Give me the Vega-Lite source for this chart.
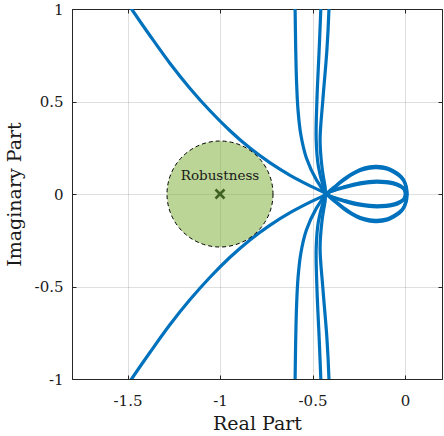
{
  "$schema": "https://vega.github.io/schema/vega-lite/v6.json",
  "width": 370,
  "height": 370,
  "autosize": {"type": "none"},
  "padding": {"left": 72, "top": 9, "right": 2, "bottom": 57},
  "config": {
    "font": "DejaVu Serif",
    "view": {"stroke": "#262626", "strokeWidth": 1},
    "axis": {
      "labelFont": "DejaVu Serif",
      "titleFont": "DejaVu Serif",
      "labelFontSize": 15,
      "titleFontSize": 19,
      "titleFontWeight": "normal",
      "labelColor": "#1a1a1a",
      "titleColor": "#1a1a1a",
      "domainColor": "#262626",
      "tickColor": "#262626",
      "gridColor": "#262626",
      "gridOpacity": 0.15,
      "tickSize": -4
    }
  },
  "datasets": {
    "curves": [
      {"s": "A1", "i": 0, "re": -1.521, "im": 1.065},
      {"s": "A1", "i": 1, "re": -1.478, "im": 1.0},
      {"s": "A1", "i": 2, "re": -1.379, "im": 0.857},
      {"s": "A1", "i": 3, "re": -1.271, "im": 0.707},
      {"s": "A1", "i": 4, "re": -1.163, "im": 0.572},
      {"s": "A1", "i": 5, "re": -1.054, "im": 0.45},
      {"s": "A1", "i": 6, "re": -0.946, "im": 0.342},
      {"s": "A1", "i": 7, "re": -0.838, "im": 0.248},
      {"s": "A1", "i": 8, "re": -0.729, "im": 0.168},
      {"s": "A1", "i": 9, "re": -0.621, "im": 0.101},
      {"s": "A1", "i": 10, "re": -0.513, "im": 0.044},
      {"s": "A1", "i": 11, "re": -0.425, "im": 0.0},
      {"s": "A1", "i": 12, "re": -0.37, "im": -0.045},
      {"s": "A1", "i": 13, "re": -0.332, "im": -0.074},
      {"s": "A1", "i": 14, "re": -0.29, "im": -0.103},
      {"s": "A1", "i": 15, "re": -0.242, "im": -0.127},
      {"s": "A1", "i": 16, "re": -0.19, "im": -0.14},
      {"s": "A1", "i": 17, "re": -0.152, "im": -0.142},
      {"s": "A1", "i": 18, "re": -0.1, "im": -0.135},
      {"s": "A1", "i": 19, "re": -0.062, "im": -0.118},
      {"s": "A1", "i": 20, "re": -0.03, "im": -0.097},
      {"s": "A1", "i": 21, "re": -0.008, "im": -0.073},
      {"s": "A1", "i": 22, "re": 0.005, "im": -0.038},
      {"s": "A1", "i": 23, "re": 0.009, "im": 0.0},

      {"s": "A2", "i": 0, "re": -1.521, "im": -1.065},
      {"s": "A2", "i": 1, "re": -1.478, "im": -1.0},
      {"s": "A2", "i": 2, "re": -1.379, "im": -0.857},
      {"s": "A2", "i": 3, "re": -1.271, "im": -0.707},
      {"s": "A2", "i": 4, "re": -1.163, "im": -0.572},
      {"s": "A2", "i": 5, "re": -1.054, "im": -0.45},
      {"s": "A2", "i": 6, "re": -0.946, "im": -0.342},
      {"s": "A2", "i": 7, "re": -0.838, "im": -0.248},
      {"s": "A2", "i": 8, "re": -0.729, "im": -0.168},
      {"s": "A2", "i": 9, "re": -0.621, "im": -0.101},
      {"s": "A2", "i": 10, "re": -0.513, "im": -0.044},
      {"s": "A2", "i": 11, "re": -0.425, "im": 0.0},
      {"s": "A2", "i": 12, "re": -0.37, "im": 0.045},
      {"s": "A2", "i": 13, "re": -0.332, "im": 0.074},
      {"s": "A2", "i": 14, "re": -0.29, "im": 0.103},
      {"s": "A2", "i": 15, "re": -0.242, "im": 0.127},
      {"s": "A2", "i": 16, "re": -0.19, "im": 0.14},
      {"s": "A2", "i": 17, "re": -0.152, "im": 0.142},
      {"s": "A2", "i": 18, "re": -0.1, "im": 0.135},
      {"s": "A2", "i": 19, "re": -0.062, "im": 0.118},
      {"s": "A2", "i": 20, "re": -0.03, "im": 0.097},
      {"s": "A2", "i": 21, "re": -0.008, "im": 0.073},
      {"s": "A2", "i": 22, "re": 0.005, "im": 0.038},
      {"s": "A2", "i": 23, "re": 0.009, "im": 0.0},

      {"s": "B1", "i": 0, "re": -0.596, "im": 1.1},
      {"s": "B1", "i": 1, "re": -0.594, "im": 1.0},
      {"s": "B1", "i": 2, "re": -0.591, "im": 0.8},
      {"s": "B1", "i": 3, "re": -0.586, "im": 0.6},
      {"s": "B1", "i": 4, "re": -0.578, "im": 0.45},
      {"s": "B1", "i": 5, "re": -0.563, "im": 0.32},
      {"s": "B1", "i": 6, "re": -0.533, "im": 0.195},
      {"s": "B1", "i": 7, "re": -0.478, "im": 0.075},
      {"s": "B1", "i": 8, "re": -0.425, "im": 0.0},
      {"s": "B1", "i": 9, "re": -0.37, "im": -0.048},
      {"s": "B1", "i": 10, "re": -0.332, "im": -0.079},
      {"s": "B1", "i": 11, "re": -0.29, "im": -0.108},
      {"s": "B1", "i": 12, "re": -0.242, "im": -0.133},
      {"s": "B1", "i": 13, "re": -0.19, "im": -0.147},
      {"s": "B1", "i": 14, "re": -0.152, "im": -0.149},
      {"s": "B1", "i": 15, "re": -0.1, "im": -0.142},
      {"s": "B1", "i": 16, "re": -0.062, "im": -0.125},
      {"s": "B1", "i": 17, "re": -0.03, "im": -0.103},
      {"s": "B1", "i": 18, "re": -0.008, "im": -0.078},
      {"s": "B1", "i": 19, "re": 0.007, "im": -0.04},
      {"s": "B1", "i": 20, "re": 0.012, "im": 0.0},

      {"s": "B2", "i": 0, "re": -0.596, "im": -1.1},
      {"s": "B2", "i": 1, "re": -0.594, "im": -1.0},
      {"s": "B2", "i": 2, "re": -0.591, "im": -0.8},
      {"s": "B2", "i": 3, "re": -0.586, "im": -0.6},
      {"s": "B2", "i": 4, "re": -0.578, "im": -0.45},
      {"s": "B2", "i": 5, "re": -0.563, "im": -0.32},
      {"s": "B2", "i": 6, "re": -0.533, "im": -0.195},
      {"s": "B2", "i": 7, "re": -0.478, "im": -0.075},
      {"s": "B2", "i": 8, "re": -0.425, "im": 0.0},
      {"s": "B2", "i": 9, "re": -0.37, "im": 0.048},
      {"s": "B2", "i": 10, "re": -0.332, "im": 0.079},
      {"s": "B2", "i": 11, "re": -0.29, "im": 0.108},
      {"s": "B2", "i": 12, "re": -0.242, "im": 0.133},
      {"s": "B2", "i": 13, "re": -0.19, "im": 0.147},
      {"s": "B2", "i": 14, "re": -0.152, "im": 0.149},
      {"s": "B2", "i": 15, "re": -0.1, "im": 0.142},
      {"s": "B2", "i": 16, "re": -0.062, "im": 0.125},
      {"s": "B2", "i": 17, "re": -0.03, "im": 0.103},
      {"s": "B2", "i": 18, "re": -0.008, "im": 0.078},
      {"s": "B2", "i": 19, "re": 0.007, "im": 0.04},
      {"s": "B2", "i": 20, "re": 0.012, "im": 0.0},

      {"s": "C1", "i": 0, "re": -0.453, "im": 1.1},
      {"s": "C1", "i": 1, "re": -0.455, "im": 1.0},
      {"s": "C1", "i": 2, "re": -0.464, "im": 0.78},
      {"s": "C1", "i": 3, "re": -0.476, "im": 0.509},
      {"s": "C1", "i": 4, "re": -0.48, "im": 0.292},
      {"s": "C1", "i": 5, "re": -0.468, "im": 0.148},
      {"s": "C1", "i": 6, "re": -0.441, "im": 0.04},
      {"s": "C1", "i": 7, "re": -0.425, "im": 0.0},
      {"s": "C1", "i": 8, "re": -0.38, "im": -0.02},
      {"s": "C1", "i": 9, "re": -0.332, "im": -0.034},
      {"s": "C1", "i": 10, "re": -0.242, "im": -0.055},
      {"s": "C1", "i": 11, "re": -0.152, "im": -0.064},
      {"s": "C1", "i": 12, "re": -0.062, "im": -0.055},
      {"s": "C1", "i": 13, "re": -0.025, "im": -0.04},
      {"s": "C1", "i": 14, "re": -0.008, "im": -0.028},
      {"s": "C1", "i": 15, "re": 0.0, "im": -0.012},
      {"s": "C1", "i": 16, "re": 0.002, "im": 0.0},

      {"s": "C2", "i": 0, "re": -0.453, "im": -1.1},
      {"s": "C2", "i": 1, "re": -0.455, "im": -1.0},
      {"s": "C2", "i": 2, "re": -0.464, "im": -0.78},
      {"s": "C2", "i": 3, "re": -0.476, "im": -0.509},
      {"s": "C2", "i": 4, "re": -0.48, "im": -0.292},
      {"s": "C2", "i": 5, "re": -0.468, "im": -0.148},
      {"s": "C2", "i": 6, "re": -0.441, "im": -0.04},
      {"s": "C2", "i": 7, "re": -0.425, "im": 0.0},
      {"s": "C2", "i": 8, "re": -0.38, "im": 0.02},
      {"s": "C2", "i": 9, "re": -0.332, "im": 0.034},
      {"s": "C2", "i": 10, "re": -0.242, "im": 0.055},
      {"s": "C2", "i": 11, "re": -0.152, "im": 0.064},
      {"s": "C2", "i": 12, "re": -0.062, "im": 0.055},
      {"s": "C2", "i": 13, "re": -0.025, "im": 0.04},
      {"s": "C2", "i": 14, "re": -0.008, "im": 0.028},
      {"s": "C2", "i": 15, "re": 0.0, "im": 0.012},
      {"s": "C2", "i": 16, "re": 0.002, "im": 0.0},

      {"s": "D1", "i": 0, "re": -0.409, "im": 1.1},
      {"s": "D1", "i": 1, "re": -0.411, "im": 1.0},
      {"s": "D1", "i": 2, "re": -0.422, "im": 0.78},
      {"s": "D1", "i": 3, "re": -0.444, "im": 0.509},
      {"s": "D1", "i": 4, "re": -0.459, "im": 0.292},
      {"s": "D1", "i": 5, "re": -0.449, "im": 0.148},
      {"s": "D1", "i": 6, "re": -0.432, "im": 0.04},
      {"s": "D1", "i": 7, "re": -0.425, "im": 0.0},
      {"s": "D1", "i": 8, "re": -0.38, "im": -0.022},
      {"s": "D1", "i": 9, "re": -0.332, "im": -0.038},
      {"s": "D1", "i": 10, "re": -0.242, "im": -0.061},
      {"s": "D1", "i": 11, "re": -0.152, "im": -0.07},
      {"s": "D1", "i": 12, "re": -0.062, "im": -0.061},
      {"s": "D1", "i": 13, "re": -0.025, "im": -0.045},
      {"s": "D1", "i": 14, "re": -0.008, "im": -0.031},
      {"s": "D1", "i": 15, "re": 0.001, "im": -0.014},
      {"s": "D1", "i": 16, "re": 0.003, "im": 0.0},

      {"s": "D2", "i": 0, "re": -0.409, "im": -1.1},
      {"s": "D2", "i": 1, "re": -0.411, "im": -1.0},
      {"s": "D2", "i": 2, "re": -0.422, "im": -0.78},
      {"s": "D2", "i": 3, "re": -0.444, "im": -0.509},
      {"s": "D2", "i": 4, "re": -0.459, "im": -0.292},
      {"s": "D2", "i": 5, "re": -0.449, "im": -0.148},
      {"s": "D2", "i": 6, "re": -0.432, "im": -0.04},
      {"s": "D2", "i": 7, "re": -0.425, "im": 0.0},
      {"s": "D2", "i": 8, "re": -0.38, "im": 0.022},
      {"s": "D2", "i": 9, "re": -0.332, "im": 0.038},
      {"s": "D2", "i": 10, "re": -0.242, "im": 0.061},
      {"s": "D2", "i": 11, "re": -0.152, "im": 0.07},
      {"s": "D2", "i": 12, "re": -0.062, "im": 0.061},
      {"s": "D2", "i": 13, "re": -0.025, "im": 0.045},
      {"s": "D2", "i": 14, "re": -0.008, "im": 0.031},
      {"s": "D2", "i": 15, "re": 0.001, "im": 0.014},
      {"s": "D2", "i": 16, "re": 0.003, "im": 0.0}
    ],
    "marker": [
      {"re": -1.0, "im": 0.0, "label": "Robustness", "labelIm": 0.1}
    ]
  },
  "resolve": {"axis": {"x": "independent", "y": "independent"}},
  "layer": [
    {
      "data": {"name": "curves"},
      "mark": {"type": "line", "clip": true, "color": "#0072BD", "strokeWidth": 3.2, "interpolate": "catmull-rom", "strokeCap": "butt"},
      "encoding": {
        "x": {
          "field": "re", "type": "quantitative",
          "scale": {"domain": [-1.8, 0.2], "nice": false, "zero": false},
          "axis": {"values": [-1.5, -1, -0.5, 0], "title": "Real Part", "labelExpr": "datum.value + ''", "labelPadding": 18, "titlePadding": 6}
        },
        "y": {
          "field": "im", "type": "quantitative",
          "scale": {"domain": [-1, 1], "nice": false, "zero": false},
          "axis": {"values": [-1, -0.5, 0, 0.5, 1], "title": "Imaginary Part", "labelExpr": "datum.value + ''", "labelPadding": 13, "titlePadding": 10}
        },
        "detail": {"field": "s", "type": "nominal"},
        "order": {"field": "i", "type": "quantitative"}
      }
    },
    {
      "data": {"name": "marker"},
      "mark": {"type": "point", "shape": "circle", "size": 11236, "filled": true, "fill": "#77AC30", "fillOpacity": 0.5, "stroke": "#000000", "strokeWidth": 1, "strokeDash": [4, 3], "strokeOpacity": 1, "opacity": 1},
      "encoding": {
        "x": {"field": "re", "type": "quantitative", "axis": {"orient": "top", "values": [-1.5, -1, -0.5, 0], "labels": false, "grid": false, "domain": false, "title": null}},
        "y": {"field": "im", "type": "quantitative", "axis": {"orient": "right", "values": [-1, -0.5, 0, 0.5, 1], "labels": false, "grid": false, "domain": false, "title": null}}
      }
    },
    {
      "data": {"name": "marker"},
      "mark": {"type": "point", "shape": "M-1,-1L1,1M-1,1L1,-1", "size": 81, "filled": false, "stroke": "#3f6222", "strokeWidth": 2.6, "opacity": 1},
      "encoding": {
        "x": {"field": "re", "type": "quantitative", "axis": null},
        "y": {"field": "im", "type": "quantitative", "axis": null}
      }
    },
    {
      "data": {"name": "marker"},
      "mark": {"type": "text", "font": "DejaVu Serif", "fontSize": 13.5, "color": "#1a1a1a", "baseline": "middle", "align": "center"},
      "encoding": {
        "x": {"field": "re", "type": "quantitative", "axis": null},
        "y": {"field": "labelIm", "type": "quantitative", "axis": null},
        "text": {"field": "label"}
      }
    }
  ]
}
